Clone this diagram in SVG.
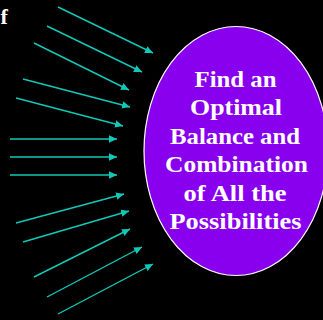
<svg xmlns="http://www.w3.org/2000/svg" width="323" height="320" viewBox="0 0 323 320">
<style>
.bg{fill:#000}
.arr{stroke:#12c9b9;stroke-width:1.4;fill:none;marker-end:url(#ah)}
.t{font-family:"Liberation Serif","Times New Roman",serif;font-weight:bold;fill:#fff;font-size:23px}
.c{text-anchor:middle}
</style>
<defs>
<marker id="ah" markerUnits="userSpaceOnUse" markerWidth="9" markerHeight="8" refX="8" refY="3.75" orient="auto">
<path d="M0,0 L8,3.75 L0,7.5 z" fill="#12c9b9"/>
</marker>
</defs>
<rect class="bg" x="0" y="0" width="323" height="320"/>
<g id="partial-text">
<text class="t" x="0.5" y="24" style="font-size:22px">f</text>
</g>
<g id="connectors">
<line class="arr" x1="58" y1="7" x2="153" y2="53"/>
<line class="arr" x1="47" y1="26" x2="142" y2="72"/>
<line class="arr" x1="34" y1="43" x2="129" y2="90"/>
<line class="arr" x1="23" y1="79" x2="130" y2="107"/>
<line class="arr" x1="16" y1="98" x2="123" y2="126"/>
<line class="arr" x1="10" y1="139" x2="117" y2="139"/>
<line class="arr" x1="10" y1="157" x2="117" y2="157"/>
<line class="arr" x1="10" y1="175" x2="117" y2="175"/>
<line class="arr" x1="16" y1="223" x2="124" y2="194"/>
<line class="arr" x1="23" y1="242" x2="129" y2="211"/>
<line class="arr" x1="34" y1="277" x2="130" y2="229"/>
<line class="arr" x1="47" y1="297" x2="142" y2="247"/>
<line class="arr" x1="58" y1="314" x2="153" y2="264"/>
</g>
<g id="goal">
<ellipse cx="236" cy="151" rx="92" ry="124.5" fill="#8800ee" stroke="#fff" stroke-width="1.2"/>
<text class="t c" x="235.5" y="87.3" textLength="82" lengthAdjust="spacingAndGlyphs">Find an</text>
<text class="t c" x="236" y="115.3" textLength="92" lengthAdjust="spacingAndGlyphs">Optimal</text>
<text class="t c" x="235" y="143.5" textLength="130" lengthAdjust="spacingAndGlyphs">Balance and</text>
<text class="t c" x="236.5" y="172" textLength="143" lengthAdjust="spacingAndGlyphs">Combination</text>
<text class="t c" x="235" y="200.5" textLength="103" lengthAdjust="spacingAndGlyphs">of All the</text>
<text class="t c" x="235.5" y="229" textLength="132" lengthAdjust="spacingAndGlyphs">Possibilities</text>
</g>
</svg>
